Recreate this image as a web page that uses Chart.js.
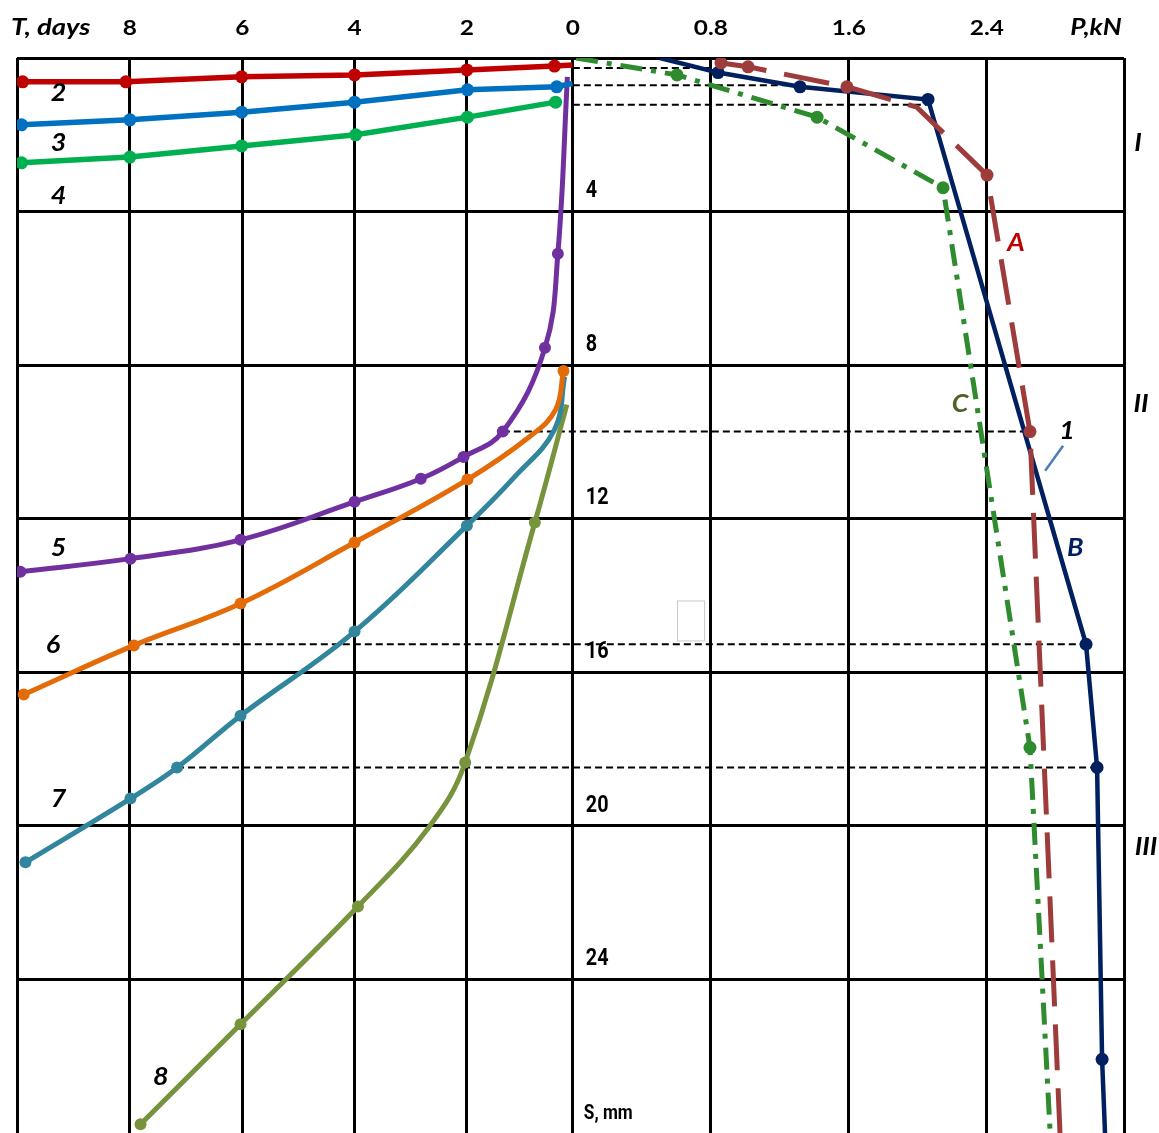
<!DOCTYPE html>
<html>
<head>
<meta charset="utf-8">
<title>S(T) and S(P)</title>
<script src="https://cdn.jsdelivr.net/npm/chart.js@4.4.1/dist/chart.umd.min.js"></script>
<style>
  html, body { margin: 0; padding: 0; background: #fff; }
  #wrap { width: 1159px; height: 1133px; }
</style>
</head>
<body>
<div id="wrap"><canvas id="chart" width="1159" height="1133"></canvas></div>
<script>
// === time curves: T, days -> S, mm ===
const t2 = [9.91, 8.07, 6.01, 4.00, 2.00, 0.44, 0.12];
const s2 = [0.62, 0.62, 0.49, 0.44, 0.31, 0.21, 0.18];
const t3 = [9.93, 8.00, 6.01, 4.00, 1.99, 0.40, 0.12];
const s3 = [1.74, 1.61, 1.41, 1.15, 0.83, 0.75, 0.66];
const t4 = [9.93, 8.00, 6.01, 3.98, 1.99, 0.42];
const s4 = [2.73, 2.58, 2.29, 2.00, 1.54, 1.15];
const t5 = [0.21, 0.38, 0.61, 1.36, 2.06, 2.82, 4.00, 6.03, 7.99, 9.95];
const s5 = [0.49, 5.10, 7.55, 9.73, 10.39, 10.96, 11.56, 12.55, 13.04, 13.38];
const t6 = [0.28, 0.42, 0.88, 1.99, 4.00, 6.03, 7.93, 9.89];
const s6 = [8.15, 9.16, 9.86, 10.98, 12.62, 14.21, 15.30, 16.58];
const t7 = [0.26, 0.44, 1.15, 2.00, 4.00, 6.03, 7.16, 7.99, 9.86];
const s7 = [8.30, 9.68, 10.91, 12.18, 14.94, 17.13, 18.48, 19.29, 20.95];
const t8 = [0.22, 0.79, 2.03, 2.68, 3.94, 6.03, 7.81];
const s8 = [9.03, 12.10, 18.35, 20.04, 22.10, 25.17, 27.77];

// === load curves: P, kN -> S, mm ===
const pA = [0.859, 1.016, 1.589, 1.994, 2.401, 2.650, 2.824];
const sA = [0.13, 0.23, 0.75, 1.28, 3.05, 9.73, 28.0];
const pB = [0.505, 0.842, 1.317, 2.059, 2.975, 3.039, 3.068, 3.085];
const sB = [0.0, 0.38, 0.75, 1.08, 15.27, 18.48, 26.08, 28.0];
const pC = [0.019, 0.604, 1.416, 2.146, 2.650, 2.767];
const sC = [0.0, 0.44, 1.54, 3.38, 17.96, 28.0];

// === dashed links between the two halves ===
const refS = [0.26, 0.71, 1.22, 9.73, 15.27, 18.48];
const refFromT = [null, null, null, 1.36, 7.93, 7.16]; // null -> from P = 0
const refToP = [0.82, 1.28, 2.05, 2.65, 2.975, 3.039];

// === tick labels ===
const tTicks = [8, 6, 4, 2];
const pTicks = [0, 0.8, 1.6, 2.4];
const sTicks = [0, 4, 8, 12, 16, 20, 24];

const pts = (xs, ys) => xs.map((x, i) => ({ x, y: ys[i] }));
const radius = (r, bare) => ctx => bare.includes(ctx.dataIndex) ? 0 : r;

function timeCurve(t, s, color, opt = {}) {
  return {
    data: pts(t, s), xAxisID: 'xT', yAxisID: 'y',
    borderColor: color, backgroundColor: color,
    borderWidth: opt.w || 5, tension: opt.tension || 0,
    pointRadius: radius(opt.r || 6, opt.bare || []), pointHoverRadius: 0,
    pointBorderWidth: 0
  };
}
function loadCurve(p, s, color, opt = {}) {
  return {
    data: pts(p, s), xAxisID: 'xP', yAxisID: 'y',
    borderColor: color, backgroundColor: color,
    borderWidth: opt.w || 4.5, borderDash: opt.dash || [],
    tension: 0, pointRadius: radius(6.5, opt.bare || []), pointHoverRadius: 0,
    pointBorderWidth: 0
  };
}

const datasets = [
  timeCurve(t2, s2, '#C00000', { w: 5.5, r: 6.5, bare: [6] }),
  timeCurve(t3, s3, '#0070C0', { w: 5.5, r: 6.5, bare: [6] }),
  timeCurve(t4, s4, '#00B050', { w: 5.5, r: 6.5 }),
  timeCurve(t5, s5, '#7030A0', { tension: 0.4, bare: [0] }),
  timeCurve(t6, s6, '#E36C09', { tension: 0.4, bare: [1, 2] }),
  timeCurve(t7, s7, '#31859C', { tension: 0.4, bare: [0, 1, 2] }),
  timeCurve(t8, s8, '#77933C', { tension: 0.4, bare: [0, 3] }),
  loadCurve(pA, sA, '#9E3B3B', { w: 5, dash: [46, 18], bare: [3, 6] }),
  loadCurve(pC, sC, '#2E8B2E', { w: 5, dash: [22, 9, 5, 9], bare: [0, 5] }),
  loadCurve(pB, sB, '#002060', { bare: [0, 7] })
];

// text labels, placed in axis units
const labels = [
  { t: 'T, days', ax: 'xT', x: 9.41, s: -0.78, f: 'italic bold 22px Lato', sx: 1.25 },
  { t: 'P,kN', ax: 'xP', x: 3.033, s: -0.78, f: 'italic bold 22px Lato', sx: 1.2 },
  { t: '2', ax: 'xT', x: 9.27, s: 0.91 }, { t: '3', ax: 'xT', x: 9.27, s: 2.21 },
  { t: '4', ax: 'xT', x: 9.27, s: 3.59 }, { t: '5', ax: 'xT', x: 9.27, s: 12.78 },
  { t: '6', ax: 'xT', x: 9.37, s: 15.30 }, { t: '7', ax: 'xT', x: 9.27, s: 19.31 },
  { t: '8', ax: 'xT', x: 7.45, s: 26.55 },
  { t: 'A', ax: 'xP', x: 2.569, s: 4.82, c: '#C00000' },
  { t: 'C', ax: 'xP', x: 2.245, s: 9.01, c: '#4F6228' },
  { t: '1', ax: 'xP', x: 2.865, s: 9.73 },
  { t: 'B', ax: 'xP', x: 2.912, s: 12.78, c: '#002060' },
  { t: 'I', ax: 'xP', x: 3.277, s: 2.21 },
  { t: 'II', ax: 'xP', x: 3.294, s: 9.01 },
  { t: 'III', ax: 'xP', x: 3.323, s: 20.56 }
];

// text with horizontal stretch (the source figure is widened)
function stretchText(ctx, text, x, y, sx) {
  ctx.save();
  ctx.translate(x, y);
  ctx.scale(sx, 1);
  ctx.fillText(text, 0, 0);
  ctx.restore();
}

const drawExtras = {
  id: 'extras',
  beforeDatasetsDraw(chart) {
    const { ctx, scales: { xT, xP, y } } = chart;
    ctx.save();
    // dashed link lines
    ctx.strokeStyle = '#000';
    ctx.lineWidth = 2;
    ctx.setLineDash([7, 4]);
    refS.forEach((s, i) => {
      const x1 = refFromT[i] === null ? xP.getPixelForValue(0) : xT.getPixelForValue(refFromT[i]);
      const yy = y.getPixelForValue(s);
      ctx.beginPath();
      ctx.moveTo(x1, yy);
      ctx.lineTo(xP.getPixelForValue(refToP[i]), yy);
      ctx.stroke();
    });
    ctx.setLineDash([]);
    // stray empty text box
    ctx.strokeStyle = '#c8c8c8';
    ctx.lineWidth = 1;
    const rx = xP.getPixelForValue(0.604), ry = y.getPixelForValue(14.13);
    ctx.strokeRect(rx + 0.5, ry + 0.5, xP.getPixelForValue(0.761) - rx, y.getPixelForValue(15.17) - ry);
    ctx.restore();
  },
  afterDraw(chart) {
    const { ctx, scales: { xT, xP, y } } = chart;
    ctx.save();
    ctx.textAlign = 'center';
    ctx.textBaseline = 'middle';
    ctx.fillStyle = '#000';
    const top = y.getPixelForValue(-0.78);
    ctx.font = 'bold 20px Lato';
    tTicks.forEach(v => stretchText(ctx, String(v), xT.getPixelForValue(v), top, 1.22));
    pTicks.forEach(v => stretchText(ctx, String(v), xP.getPixelForValue(v), top, 1.22));

    // S, mm labels next to the zero line
    ctx.font = 'bold 23px Roboto';
    ctx.textAlign = 'left';
    const sx = xP.getPixelForValue(0) + 13;
    sTicks.slice(1).forEach(v => stretchText(ctx, String(v), sx, y.getPixelForValue(v) - 20, 0.86));
    ctx.font = 'bold 20px Roboto';
    stretchText(ctx, 'S, mm', sx - 2, y.getPixelForValue(27.5), 0.86);

    // leader from "1" to curve B
    ctx.strokeStyle = '#4A7EBB';
    ctx.lineWidth = 2.5;
    ctx.beginPath();
    ctx.moveTo(xP.getPixelForValue(2.842), y.getPixelForValue(10.10));
    ctx.lineTo(xP.getPixelForValue(2.738), y.getPixelForValue(10.75));
    ctx.stroke();

    ctx.textAlign = 'center';
    labels.forEach(l => {
      ctx.font = l.f || 'italic bold 24px Lato';
      ctx.fillStyle = l.c || '#000';
      const sc = l.ax === 'xT' ? xT : xP;
      stretchText(ctx, l.t, sc.getPixelForValue(l.x), y.getPixelForValue(l.s), l.sx || 1.12);
    });
    ctx.restore();
  }
};

const gridOpts = { color: '#000', lineWidth: 3, drawTicks: false };
const setTicks = vals => scale => { scale.ticks = vals.map(v => ({ value: v })); };

new Chart(document.getElementById('chart'), {
  type: 'line',
  data: { datasets },
  options: {
    responsive: false,
    animation: false,
    events: [],
    layout: { autoPadding: false, padding: { left: 17, right: 35, top: 58, bottom: 0 } },
    plugins: { legend: { display: false }, tooltip: { enabled: false } },
    scales: {
      xT: {
        type: 'linear', position: 'top', reverse: true, min: -9.70, max: 10.01,
        grid: gridOpts, border: { display: false }, ticks: { display: false },
        afterBuildTicks: setTicks([10.01, 8, 6, 4, 2])
      },
      xP: {
        type: 'linear', position: 'top', min: -3.222, max: 3.195,
        grid: gridOpts, border: { display: false }, ticks: { display: false },
        afterBuildTicks: setTicks([0, 0.8, 1.6, 2.4, 3.195])
      },
      y: {
        type: 'linear', reverse: true, min: 0, max: 28,
        grid: gridOpts, border: { display: false }, ticks: { display: false },
        afterBuildTicks: setTicks(sTicks)
      }
    }
  },
  plugins: [drawExtras]
});
</script>
</body>
</html>
